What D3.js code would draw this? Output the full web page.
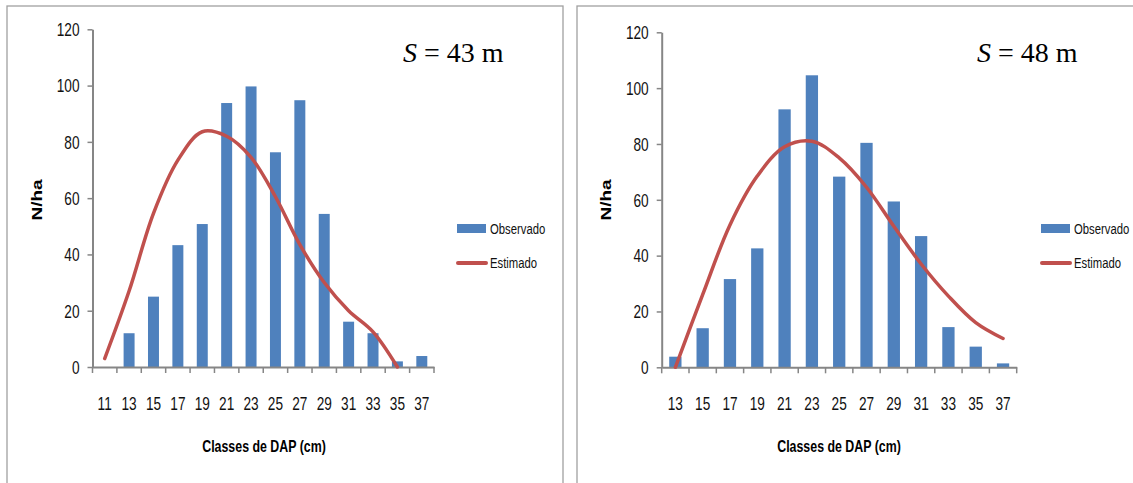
<!DOCTYPE html>
<html>
<head>
<meta charset="utf-8">
<script src="https://cdn.jsdelivr.net/npm/d3@7"></script>
<style>
  body { margin: 0; background: #fff; }
  svg { display: block; }
</style>
</head>
<body>
<div id="chart"></div>
<script>
// data
const categoriesA = [11, 13, 15, 17, 19, 21, 23, 25, 27, 29, 31, 33, 35, 37]
const observedA   = [0, 12, 25, 43.3, 50.8, 93.8, 99.7, 76.3, 94.8, 54.4, 16.1, 12, 2, 3.9]
const estimatedA  = [3, 27, 54.6, 73.5, 83.6, 82, 74.5, 60.5, 43.5, 30, 20, 12.5, 0, null]

const categoriesB = [13, 15, 17, 19, 21, 23, 25, 27, 29, 31, 33, 35, 37]
const observedB   = [3.8, 14, 31.6, 42.6, 92.4, 104.6, 68.3, 80.4, 59.4, 47, 14.4, 7.4, 1.4]
const estimatedB  = [0, 26, 51, 68.5, 79, 81, 75, 64.5, 50.5, 37, 25.5, 16, 10.3]

const yTicks = [0, 20, 40, 60, 80, 100, 120]
const panelLabels = ["S = 43 m", "S = 48 m"]

const BLUE = "#4F81BD", RED = "#C0504D", AXIS = "#868686"
const SQ = 0.78   // horizontal squeeze of the text, like the reference

const svg = d3.select("#chart").append("svg")
    .attr("width", 1133)
    .attr("height", 483)

function drawPanel(cfg) {
    let g = svg.append("g")

    // frame
    g.append("rect")
        .attr("x", cfg.frame[0]).attr("y", 6)
        .attr("width", cfg.frame[1] - cfg.frame[0]).attr("height", 500)
        .attr("fill", "none").attr("stroke", "#a0a0a0").attr("stroke-width", 1.3)

    let x = d3.scaleBand()
        .domain(cfg.categories)
        .range(cfg.xRange)
        .paddingInner(0.55)
        .paddingOuter(0.275)
    let y = d3.scaleLinear().domain([0, 120]).range(cfg.yRange)
    let cx = d => x(d) + x.bandwidth() / 2

    // bars
    g.selectAll(".bar")
        .data(cfg.categories.map((c, i) => ({c: c, v: cfg.observed[i]})).filter(d => d.v > 0))
        .join("rect")
        .attr("class", "bar")
        .attr("x", d => x(d.c))
        .attr("width", x.bandwidth())
        .attr("y", d => y(d.v))
        .attr("height", d => y(0) - y(d.v))
        .attr("fill", BLUE)

    // y axis
    let yAxis = g.append("g")
        .attr("transform", `translate(${cfg.xRange[0]},0)`)
        .call(d3.axisLeft(y).tickValues(yTicks).tickSize(5).tickSizeOuter(0))
    yAxis.select(".domain").attr("stroke", AXIS).attr("stroke-width", 2)
    yAxis.selectAll(".tick line").attr("stroke", AXIS).attr("stroke-width", 1.5)
    yAxis.selectAll(".tick text")
        .attr("x", -13 / SQ)
        .attr("dy", "0.36em")
        .attr("transform", `scale(${SQ},1)`)
        .style("font-family", "Liberation Sans, Arial, sans-serif")
        .style("font-size", "17.5px")
        .attr("fill", "#111")

    // x axis: labels at category centres, tick marks at the boundaries
    let xAxis = g.append("g")
        .attr("transform", `translate(0,${y(0)})`)
        .call(d3.axisBottom(x).tickSize(0).tickPadding(43))
    xAxis.select(".domain").attr("stroke", AXIS).attr("stroke-width", 2)
    xAxis.selectAll(".tick text")
        .attr("dy", 0)
        .attr("transform", `scale(${SQ},1)`)
        .style("font-family", "Liberation Sans, Arial, sans-serif")
        .style("font-size", "17.5px")
        .attr("fill", "#111")
    xAxis.selectAll(".bound")
        .data(d3.range(cfg.categories.length + 1))
        .join("line")
        .attr("class", "bound")
        .attr("x1", i => x.range()[0] + i * x.step())
        .attr("x2", i => x.range()[0] + i * x.step())
        .attr("y1", 0).attr("y2", 6)
        .attr("stroke", AXIS).attr("stroke-width", 1.5)

    // estimated curve
    let pts = cfg.categories.map((c, i) => [cx(c), cfg.estimated[i]]).filter(d => d[1] !== null)
    g.append("path")
        .attr("d", d3.line().x(d => d[0]).y(d => y(d[1])).curve(d3.curveCatmullRom.alpha(0.5))(pts))
        .attr("fill", "none")
        .attr("stroke", RED)
        .attr("stroke-width", 3.5)
        .attr("stroke-linecap", "round")

    // axis titles
    g.append("text")
        .attr("transform", `translate(${cfg.xTitleX},452) scale(0.75,1)`)
        .attr("text-anchor", "middle")
        .style("font-family", "Liberation Sans, Arial, sans-serif")
        .style("font-size", "16.5px")
        .style("font-weight", "bold")
        .text("Classes de DAP (cm)")
    g.append("text")
        .attr("transform", `translate(${cfg.yTitleX},200) scale(0.75,1) rotate(-90)`)
        .attr("text-anchor", "middle")
        .attr("dy", "0.35em")
        .style("font-family", "Liberation Sans, Arial, sans-serif")
        .style("font-size", "19px")
        .style("font-weight", "bold")
        .text("N/ha")

    // panel label
    let lab = g.append("text")
        .attr("x", cfg.labelX).attr("y", 62)
        .style("font-family", "Liberation Serif, Times New Roman, serif")
        .style("font-size", "28px")
    lab.append("tspan").style("font-style", "italic").text("S")
    lab.append("tspan").text(cfg.label.slice(1))

    // legend
    let lg = g.append("g").attr("transform", `translate(${cfg.legendX},0)`)
    lg.append("rect").attr("x", 0).attr("y", 224).attr("width", 29).attr("height", 9).attr("fill", BLUE)
    lg.append("line").attr("x1", 1).attr("x2", 29).attr("y1", 263).attr("y2", 263)
        .attr("stroke", RED).attr("stroke-width", 4).attr("stroke-linecap", "round")
    lg.selectAll(".lt")
        .data([["Observado", 229], ["Estimado", 263]])
        .join("text")
        .attr("class", "lt")
        .attr("transform", d => `translate(33,${d[1]}) scale(${SQ},1)`)
        .attr("dy", "0.36em")
        .style("font-family", "Liberation Sans, Arial, sans-serif")
        .style("font-size", "14.5px")
        .attr("fill", "#111")
        .text(d => d[0])
}

drawPanel({
    frame: [7, 563],
    categories: categoriesA, observed: observedA, estimated: estimatedA,
    xRange: [92.5, 434], yRange: [367, 29.3],
    xTitleX: 264, yTitleX: 37,
    label: panelLabels[0], labelX: 403,
    legendX: 457
})

drawPanel({
    frame: [577, 1150],
    categories: categoriesB, observed: observedB, estimated: estimatedB,
    xRange: [661.7, 1016.7], yRange: [367.3, 32.3],
    xTitleX: 839, yTitleX: 606,
    label: panelLabels[1], labelX: 977,
    legendX: 1041
})
</script>
</body>
</html>
